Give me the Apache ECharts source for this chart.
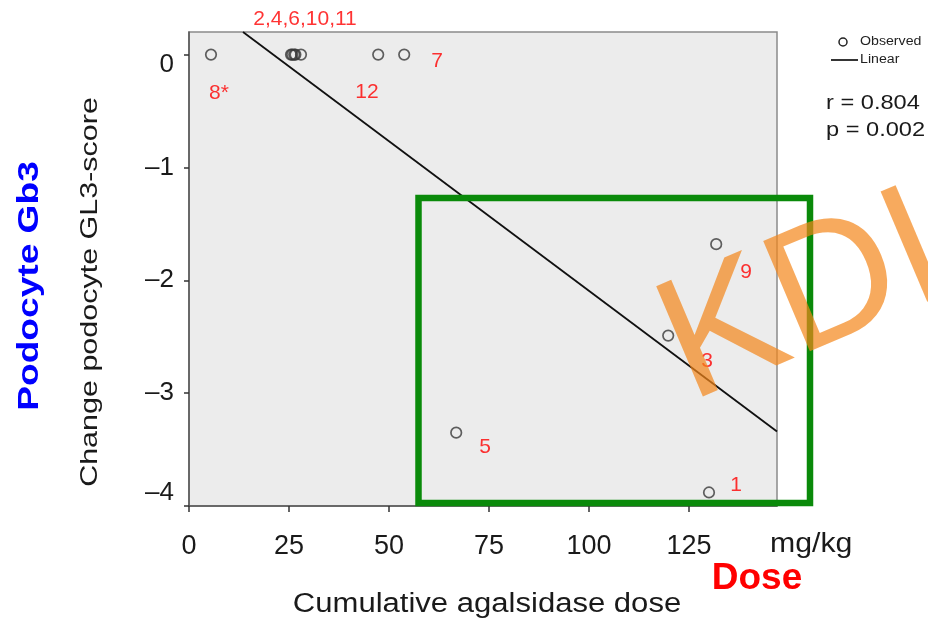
<!DOCTYPE html>
<html><head><meta charset="utf-8">
<script src="https://cdn.jsdelivr.net/npm/echarts@6/dist/echarts.min.js"></script>
<style>html,body{margin:0;padding:0;background:#fff}#c{width:928px;height:621px}</style>
</head><body><div id="c"></div>
<script>
// Observed points (cumulative agalsidase dose, change in podocyte GL3-score)
const doseX = [5.5, 25.5, 25.8, 26.3, 26.6, 28, 47.3, 53.8, 66.8, 119.8, 131.8, 130];
const gl3Y  = [0, 0, 0, 0, 0, 0, 0, 0, -3.35, -2.49, -1.68, -3.88];
// Linear fit end points
const fitX = [13.5, 147];
const fitY = [0.2, -3.34];
// Patient number annotations
const labelText = ['2,4,6,10,11', '8*', '12', '7', '9', '3', '5', '1'];
const labelX = [29, 7.5, 44.5, 62, 139.3, 129.5, 74, 136.8];
const labelY = [0.31, -0.34, -0.33, -0.06, -1.93, -2.72, -3.48, -3.82];
// Tick values
const xTicks = [0, 25, 50, 75, 100, 125];
const yTicks = [-4, -3, -2, -1, 0];

const FONT = '"Liberation Sans", Arial, Helvetica, sans-serif';
const chart = echarts.init(document.getElementById('c'), null, {renderer: 'canvas'});

function yLabel(v) {
  const s = String(v).replace('-', '\u2013');
  if (v === 0) return '{lo|' + s + '}';
  if (v === -4) return '{hi|' + s + '}';
  return s;
}

chart.setOption({
  animation: false,
  backgroundColor: '#ffffff',
  textStyle: {fontFamily: FONT},
  grid: {left: 189, right: 151, top: 32, bottom: 115, show: true,
         backgroundColor: '#ececec', borderColor: '#8a8a8a', borderWidth: 1.5},
  xAxis: {
    type: 'value', min: 0, max: 147,
    splitLine: {show: false},
    axisLine: {show: true, onZero: false, lineStyle: {color: '#555', width: 1.5}},
    axisTick: {show: true, length: 6, customValues: xTicks, lineStyle: {color: '#333', width: 1.5}},
    axisLabel: {customValues: xTicks, fontSize: 27, margin: 27, color: '#1a1a1a', fontFamily: FONT}
  },
  yAxis: {
    type: 'value', min: -4, max: 0.2,
    splitLine: {show: false},
    axisLine: {show: true, onZero: false, lineStyle: {color: '#555', width: 1.5}},
    axisTick: {show: true, length: 5, customValues: yTicks, lineStyle: {color: '#333', width: 1.5}},
    axisLabel: {customValues: yTicks, fontSize: 26, margin: 15, color: '#1a1a1a', fontFamily: FONT,
                formatter: yLabel,
                rich: {
                  lo: {fontSize: 26, fontFamily: FONT, color: '#1a1a1a', padding: [20, 0, 0, 0]},
                  hi: {fontSize: 26, fontFamily: FONT, color: '#1a1a1a', padding: [0, 0, 26, 0]}
                }}
  },
  series: [
    {
      name: 'Observed', type: 'scatter', symbol: 'circle', symbolSize: 10.5,
      itemStyle: {color: 'rgba(0,0,0,0)', borderColor: '#3a3a3a', borderWidth: 1.7},
      data: doseX.map((x, i) => [x, gl3Y[i]]), z: 3
    },
    {
      name: 'Linear', type: 'line', symbol: 'none', showSymbol: false,
      lineStyle: {color: '#111', width: 1.8},
      data: fitX.map((x, i) => [x, fitY[i]]), z: 2
    },
    {
      name: 'labels', type: 'scatter', symbolSize: 2, silent: true, clip: false,
      itemStyle: {color: 'rgba(0,0,0,0)', borderWidth: 0},
      label: {show: true, position: 'inside', color: '#ff0000', fontSize: 21, fontFamily: FONT,
              formatter: p => labelText[p.dataIndex]},
      data: labelX.map((x, i) => [x, labelY[i]]), z: 4
    }
  ],
  graphic: [
    // legend
    {type: 'circle', z: 100, shape: {cx: 843, cy: 42, r: 4},
     style: {fill: 'none', stroke: '#222', lineWidth: 1.5}},
    {type: 'line', z: 100, shape: {x1: 831, y1: 60, x2: 858, y2: 60},
     style: {stroke: '#111', lineWidth: 1.7}},
    {type: 'text', z: 100, x: 860, y: 42, scaleX: 1.18,
     style: {text: 'Observed', fontSize: 12, fontFamily: FONT, fill: '#222', textVerticalAlign: 'middle'}},
    {type: 'text', z: 100, x: 860, y: 60, scaleX: 1.18,
     style: {text: 'Linear', fontSize: 12, fontFamily: FONT, fill: '#222', textVerticalAlign: 'middle'}},
    {type: 'rect', z: 100, shape: {x: 418.5, y: 198, width: 391.5, height: 305},
     style: {fill: 'none', stroke: '#0a8a0a', lineWidth: 6.5}},
    {type: 'text', z: 100, x: 90, y: 292, rotation: Math.PI / 2, scaleX: 1.27,
     style: {text: 'Change podocyte GL3-score', fontSize: 24, fontFamily: FONT, fill: '#1a1a1a',
             textAlign: 'center', textVerticalAlign: 'middle'}},
    {type: 'text', z: 100, x: 30, y: 286, rotation: Math.PI / 2, scaleX: 1.28,
     style: {text: 'Podocyte Gb3', fontSize: 29, fontWeight: 'bold', fontFamily: FONT, fill: '#0000ff',
             textAlign: 'center', textVerticalAlign: 'middle'}},
    {type: 'text', z: 100, x: 487, y: 605, scaleX: 1.15,
     style: {text: 'Cumulative agalsidase dose', fontSize: 27, fontFamily: FONT, fill: '#1a1a1a',
             textAlign: 'center', textVerticalAlign: 'middle'}},
    {type: 'text', z: 100, x: 770, y: 545, scaleX: 1.12,
     style: {text: 'mg/kg', fontSize: 27, fontFamily: FONT, fill: '#1a1a1a',
             textAlign: 'left', textVerticalAlign: 'middle'}},
    {type: 'text', z: 100, x: 757, y: 579,
     style: {text: 'Dose', fontSize: 37, fontWeight: 'bold', fontFamily: FONT, fill: '#ff0000',
             textAlign: 'center', textVerticalAlign: 'middle'}},
    {type: 'text', z: 100, x: 826, y: 103, scaleX: 1.18,
     style: {text: 'r = 0.804', fontSize: 20, fontFamily: FONT, fill: '#1a1a1a',
             textAlign: 'left', textVerticalAlign: 'middle'}},
    {type: 'text', z: 100, x: 826, y: 130, scaleX: 1.18,
     style: {text: 'p = 0.002', fontSize: 20, fontFamily: FONT, fill: '#1a1a1a',
             textAlign: 'left', textVerticalAlign: 'middle'}},
    {type: 'text', z: 110, x: 705, y: 438, rotation: 0.40,
     style: {text: 'KDIGO', fontSize: 174, fontFamily: FONT, fill: 'rgba(243,134,26,0.7)',
             textAlign: 'left', textVerticalAlign: 'bottom'}}
  ]
});
</script></body></html>
